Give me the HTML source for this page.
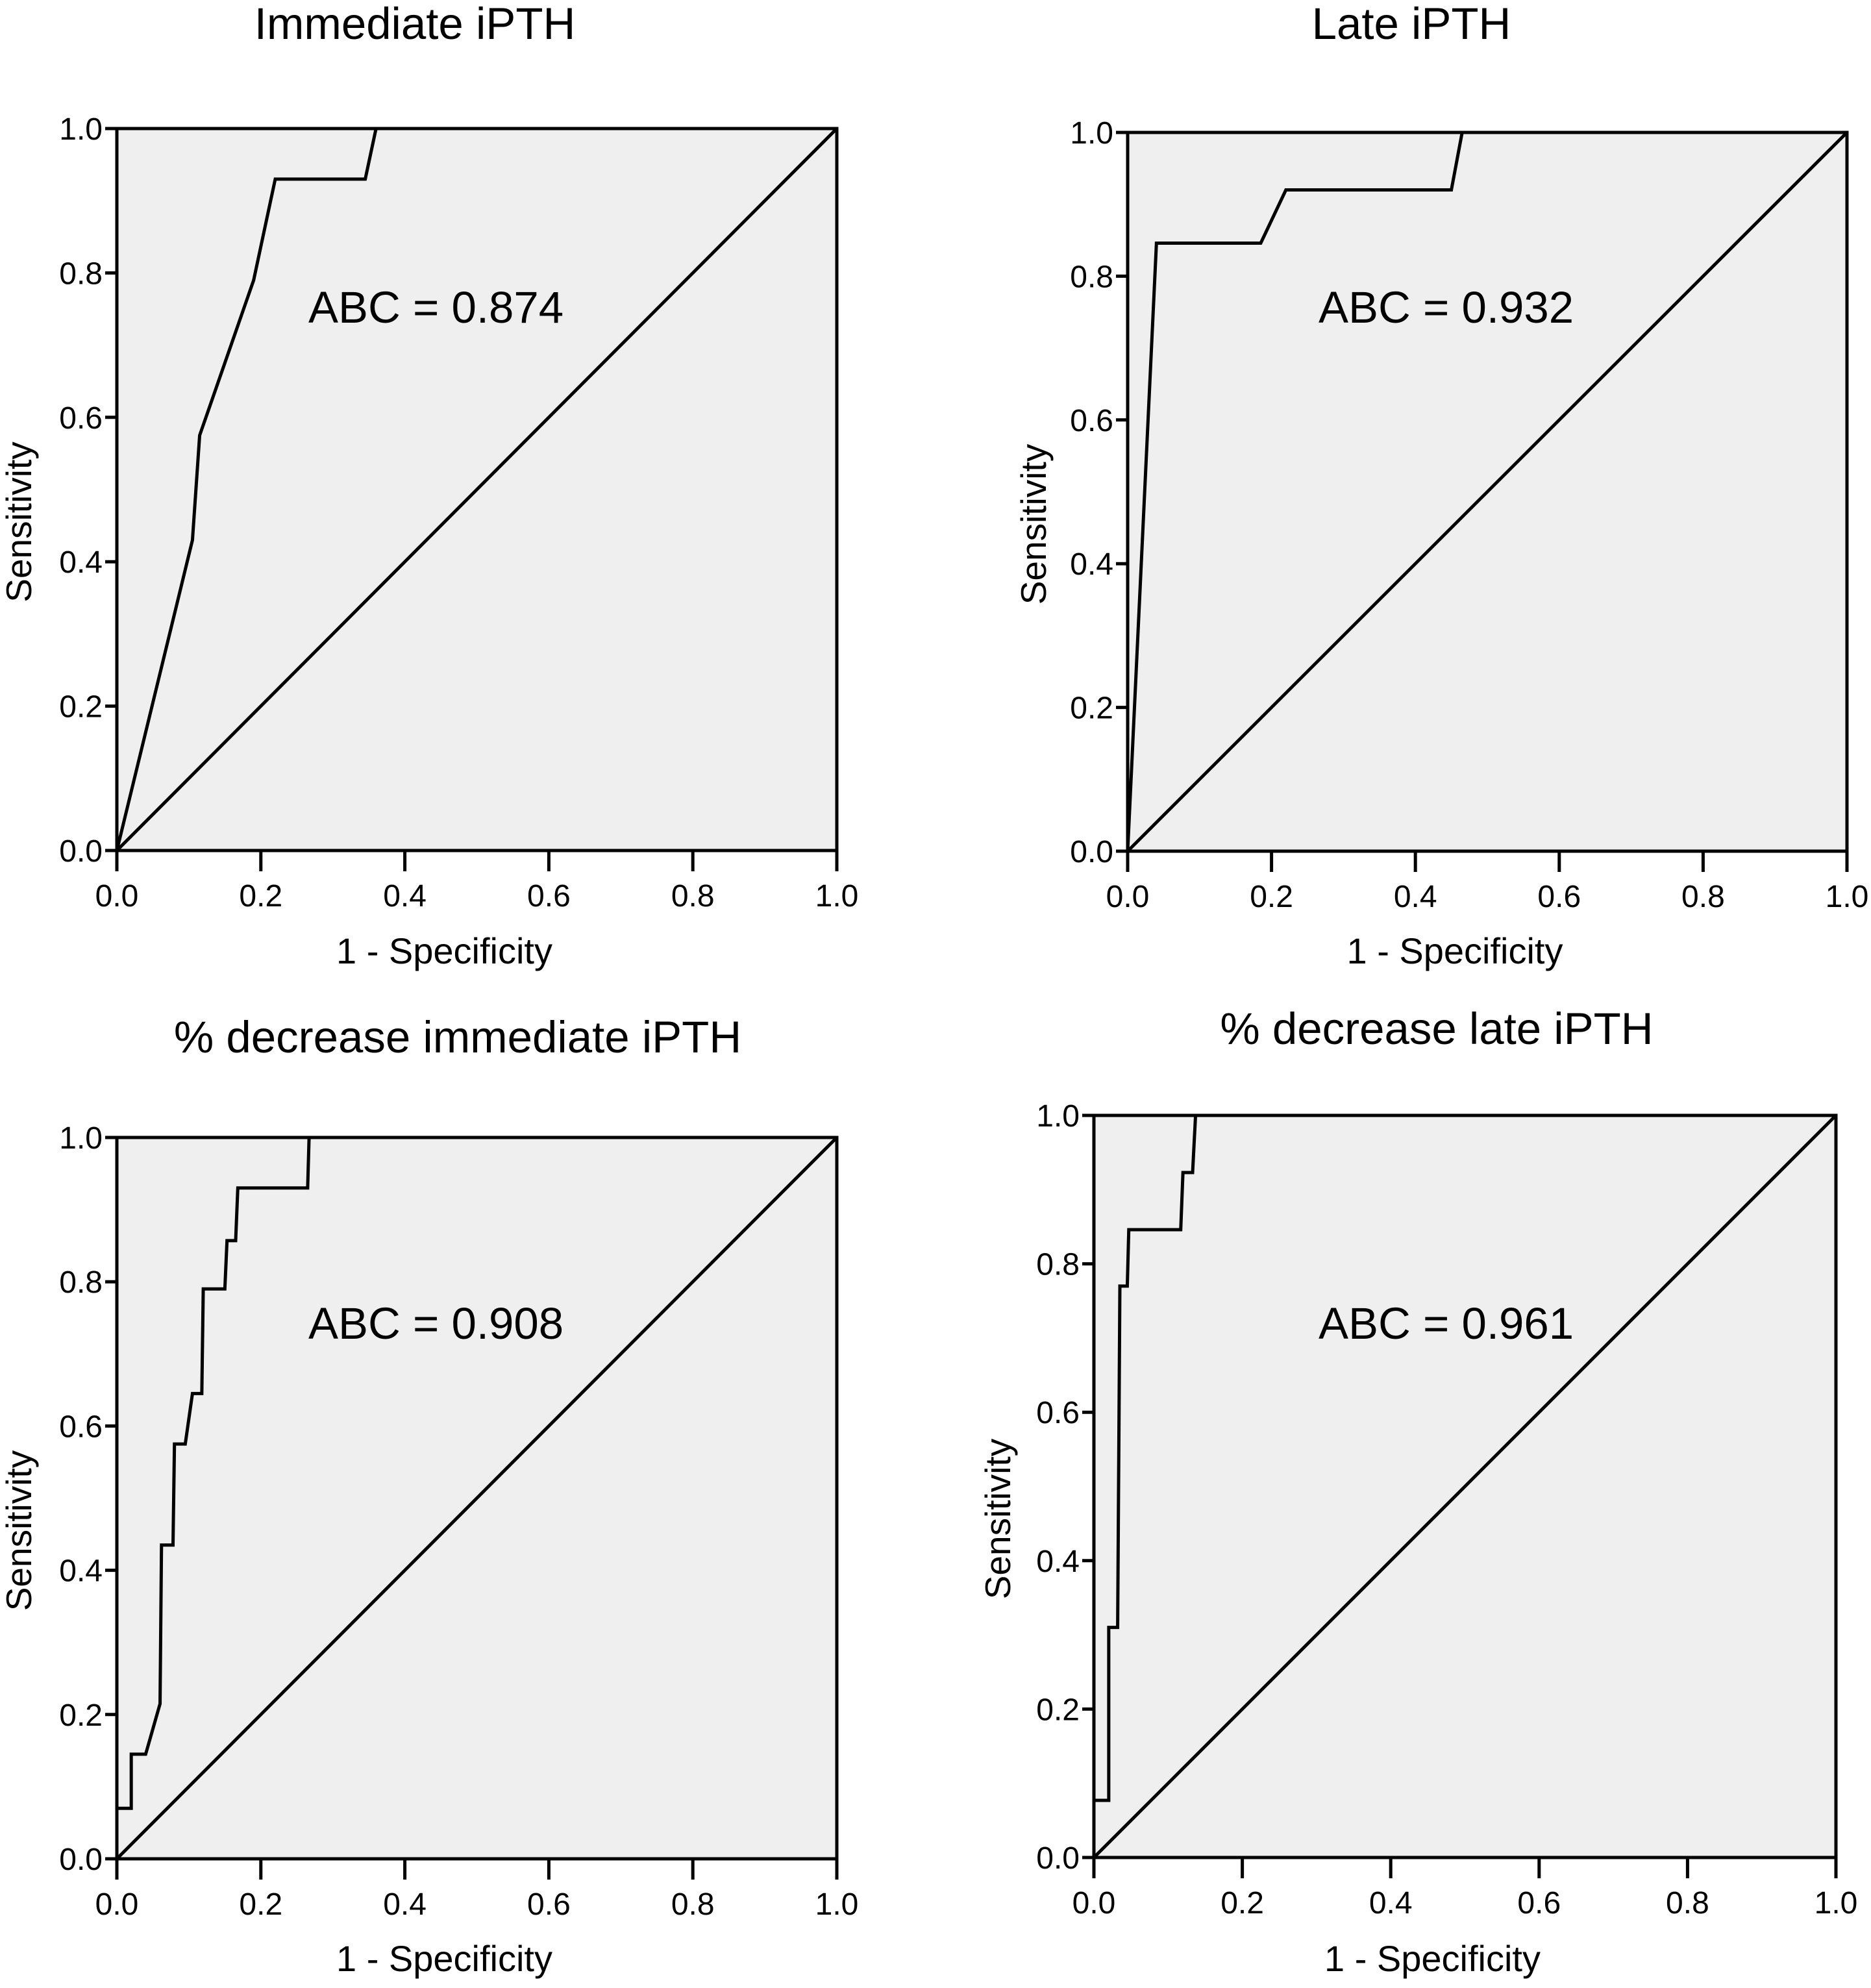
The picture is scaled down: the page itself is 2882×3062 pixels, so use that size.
<!DOCTYPE html>
<html><head><meta charset="utf-8"><style>html,body{margin:0;padding:0;background:#fff}svg{display:block}text{font-family:"Liberation Sans",Arial,sans-serif;fill:#000}</style></head>
<body>
<svg id="fig" width="2882" height="3062" viewBox="0 0 2882 3062" xmlns="http://www.w3.org/2000/svg"></svg>
<script>
const ticks = [0, 0.2, 0.4, 0.6, 0.8, 1.0];
const tickLabels = ["0.0","0.2","0.4","0.6","0.8","1.0"];
const titles = ["Immediate iPTH","Late iPTH","% decrease immediate iPTH","% decrease late iPTH"];
const aucLabels = ["ABC = 0.874","ABC = 0.932","ABC = 0.908","ABC = 0.961"];
const fpr1 = [0,0.105,0.115,0.19,0.22,0.345,0.36,1];
const tpr1 = [0,0.43,0.575,0.79,0.93,0.93,1,1];
const fpr2 = [0,0.04,0.185,0.22,0.45,0.465,1];
const tpr2 = [0,0.846,0.846,0.92,0.92,1,1];
const fpr3 = [0,0,0.02,0.02,0.04,0.06,0.062,0.078,0.08,0.095,0.105,0.118,0.12,0.15,0.153,0.165,0.168,0.265,0.267,1];
const tpr3 = [0,0.07,0.07,0.145,0.145,0.215,0.435,0.435,0.575,0.575,0.645,0.645,0.79,0.79,0.857,0.857,0.93,0.93,1,1];
const fpr4 = [0,0,0.02,0.02,0.032,0.035,0.045,0.047,0.117,0.12,0.133,0.137,1];
const tpr4 = [0,0.077,0.077,0.31,0.31,0.77,0.77,0.846,0.846,0.923,0.923,1,1];
const panels = [
 {x0:180,x1:1289,y0:1310,y1:198,tx:639,ty:60,yt:29,xt:1465,ax:475,ay:472,fpr:fpr1,tpr:tpr1},
 {x0:1737,x1:2845,y0:1311,y1:204,tx:2174,ty:60,yt:1592,xt:1465,ax:2031,ay:472,fpr:fpr2,tpr:tpr2},
 {x0:180,x1:1289,y0:2863,y1:1752,tx:705,ty:1621,yt:29,xt:3017,ax:475,ay:2037,fpr:fpr3,tpr:tpr3},
 {x0:1685,x1:2828,y0:2861,y1:1718,tx:2213,ty:1608,yt:1537,xt:3017,ax:2031,ay:2037,fpr:fpr4,tpr:tpr4}
];
const NS="http://www.w3.org/2000/svg", svg=document.getElementById('fig');
function mk(tag,attrs,parent){const e=document.createElementNS(NS,tag);for(const k in attrs)e.setAttribute(k,attrs[k]);(parent||svg).appendChild(e);return e;}
panels.forEach((p,i)=>{
 const g=mk('g',{});
 
 
 const sx=v=>p.x0+v*(p.x1-p.x0), sy=v=>p.y0+v*(p.y1-p.y0);
 const bg=mk('rect',{x:p.x0,y:p.y1,width:p.x1-p.x0,height:p.y0-p.y1,fill:'#efefef',stroke:'#000','stroke-width':5},g);
 
 
 const diag=mk('line',{x1:sx(0),y1:sy(0),x2:sx(1),y2:sy(1),stroke:'#000','stroke-width':5},g);
 
 
 const pts=p.fpr.map((f,k)=>sx(f)+','+sy(p.tpr[k])).join(' ');
 const curve=mk('polyline',{points:pts,fill:'none',stroke:'#000','stroke-width':5,'stroke-linejoin':'miter'},g);
 
 
 ticks.forEach((t,k)=>{
  mk('line',{x1:p.x0-18,y1:sy(t),x2:p.x0,y2:sy(t),stroke:'#000','stroke-width':5},g);
  const yl=mk('text',{x:p.x0-22,y:sy(t)+17,'font-size':48,'text-anchor':'end'},g);
  yl.textContent=tickLabels[k];
  
  
  mk('line',{x1:sx(t),y1:p.y0,x2:sx(t),y2:p.y0+32,stroke:'#000','stroke-width':5},g);
  const xl=mk('text',{x:sx(t),y:p.y0+86,'font-size':48,'text-anchor':'middle'},g);
  xl.textContent=tickLabels[k];
  
  
 });
 const ti=mk('text',{x:p.tx,y:p.ty,'font-size':69,'text-anchor':'middle'},g);
 ti.textContent=titles[i];
 
 
 const xt=mk('text',{x:(p.x0+p.x1)/2-50,y:p.xt+19,'font-size':56,'text-anchor':'middle'},g);
 xt.textContent='1 - Specificity';
 
 
 const cy=(p.y0+p.y1)/2+50;
 const yt=mk('text',{x:p.yt+19,y:cy,'font-size':55,'text-anchor':'middle',transform:'rotate(-90 '+(p.yt+19)+' '+cy+')'},g);
 yt.textContent='Sensitivity';
 
 
 const ab=mk('text',{x:p.ax,y:p.ay+25,'font-size':69},g);
 ab.textContent=aucLabels[i];
 
 
});
</script>
</body></html>
